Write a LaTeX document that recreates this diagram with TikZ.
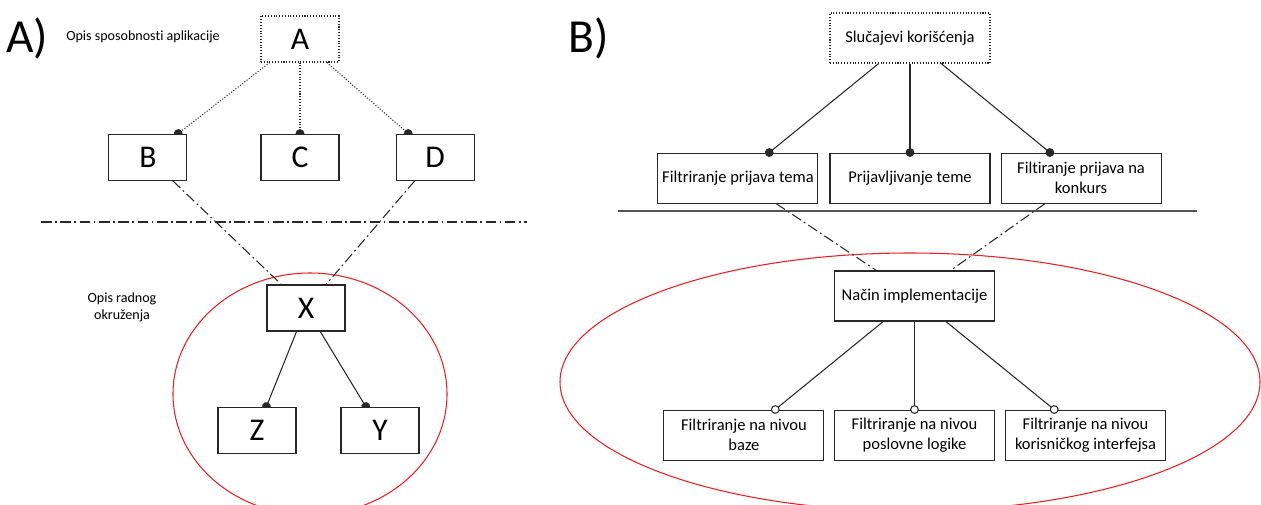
\documentclass[tikz,border=0pt]{standalone}
\usepackage{fontspec}
\setmainfont{Carlito}[Ligatures=NoCommon]
\usetikzlibrary{positioning, arrows.meta, backgrounds}
\definecolor{LineGrey}{RGB}{40,40,40}
\definecolor{ScopeRed}{RGB}{235,30,35}

\begin{document}
\begin{tikzpicture}[
    node distance = 1.42cm and 1.46cm,
    box/.style = {rectangle, draw=LineGrey, fill=white, line width=0.6pt, inner sep=0pt, align=center},
    letter/.style = {box, minimum width=1.56cm, minimum height=0.92cm, font=\fontsize{18}{20}\selectfont},
    usecase/.style = {box, minimum width=3.2cm, minimum height=1cm, font=\fontsize{9.4}{11.4}\selectfont},
    rootbox/.style = {densely dotted},
    panel/.style = {font=\fontsize{27}{30}\selectfont},
    note/.style = {font=\fontsize{8}{9.7}\selectfont, align=center},
    env/.style = {draw=ScopeRed, line width=0.6pt},
    link/.style = {draw=LineGrey, line width=0.6pt},
    mandatory/.style = {link, -{Circle[length=5pt]}, shorten >=-2.5pt},
    optional/.style = {link, -{Circle[length=5pt, fill=white]}, shorten >=-2.5pt},
    crossing/.style = {draw=LineGrey, line width=0.6pt, dash pattern=on 6pt off 2pt on 1pt off 2pt}
]
\useasboundingbox (0,0) rectangle (25.22,-10.1);

% working environment regions
\draw[env] (6.2,-7.88) ellipse [x radius=2.74cm, y radius=2.42cm];
\draw[env] (18.2,-7.64) ellipse [x radius=7cm, y radius=2.58cm];

% ---- left part: abstract feature tree
\node[panel] (labA) at (0.54,-0.76) {A)};
\node[note] (capA) at (2.86,-0.74) {Opis sposobnosti aplikacije};
\node[note] (envA) at (2.44,-6.14) {Opis radnog\\okruženja};

\node[letter, rootbox] (A) at (6.0,-0.78) {A};
\node[letter, below=of A] (C) {C};
\node[letter, left=of C] (B) {B};
\node[letter, right=1.12cm of C] (D) {D};

\node[letter] (X) at (6.12,-6.16) {X};
\node[letter, below=1.5cm of X, xshift=-0.98cm] (Z) {Z};
\node[letter, below=1.5cm of X, xshift=1.48cm] (Y) {Y};

% separator between capabilities and environment
\coordinate (sepL) at (0.82,-4.44);
\coordinate (sepR) at (10.54,-4.44);
\draw[crossing] (sepL) -- (sepR);

\begin{scope}[on background layer]
    \draw[mandatory, densely dotted] (A) -- (B);
    \draw[mandatory, densely dotted] (A) -- (C);
    \draw[mandatory, densely dotted] (A) -- (D);
    \draw[mandatory] (X) -- (Z);
    \draw[mandatory] (X) -- (Y);
\end{scope}
\draw[crossing] (B) -- (X);
\draw[crossing] (D) -- (X);

% ---- right part: use cases and implementation
\node[panel] (labB) at (11.78,-0.76) {B)};

\node[usecase, rootbox] (uc) at (18.2,-0.76) {Slučajevi korišćenja};
\node[usecase, below=1.78cm of uc] (ucPrijava) {Prijavljivanje teme};
\node[usecase, left=0.22cm of ucPrijava] (ucTema) {Filtriranje prijava tema};
\node[usecase, right=0.2cm of ucPrijava] (ucKonkurs) {Filtiranje prijava na\\konkurs};

\node[usecase] (impl) at (18.29,-5.92) {Način implementacije};
\node[usecase, below=1.76cm of impl] (implLogika) {Filtriranje na nivou\\poslovne logike};
\node[usecase, left=0.19cm of implLogika] (implBaza) {Filtriranje na nivou\\baze};
\node[usecase, right=0.2cm of implLogika] (implUi) {Filtriranje na nivou\\korisničkog interfejsa};

\coordinate (lineL) at (12.36,-4.22);
\coordinate (lineR) at (23.94,-4.22);
\draw[link, draw=LineGrey!80, line width=0.7pt] (lineL) -- (lineR);

\draw[mandatory] (uc) -- (ucTema);
\draw[mandatory] (uc) -- (ucPrijava);
\draw[mandatory] (uc) -- (ucKonkurs);
\draw[optional] (impl) -- (implBaza);
\draw[optional] (impl) -- (implLogika);
\draw[optional] (impl) -- (implUi);
\draw[crossing] (ucTema) -- (impl);
\draw[crossing] (ucKonkurs) -- (impl);
\end{tikzpicture}
\end{document}
